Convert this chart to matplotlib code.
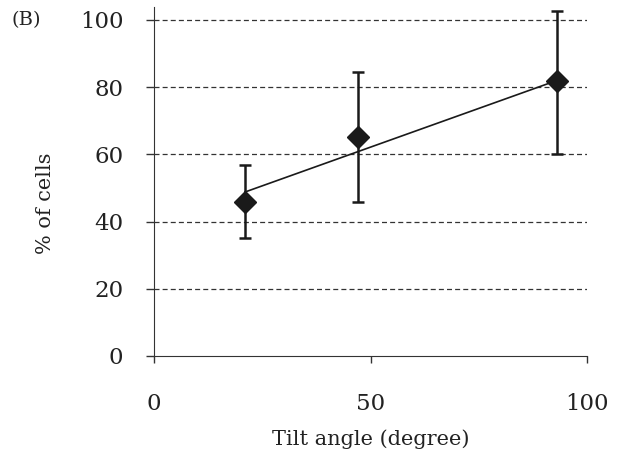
import numpy as np
import matplotlib.pyplot as plt

# data
tilt = [21, 47, 93]
pct = [45.8, 65.2, 81.8]
err_low = [35.1, 45.8, 60.1]
err_high = [56.8, 84.5, 102.7]
fit_x = [21, 93]
fit_y = [48.8, 82.0]
yticks = [0, 20, 40, 60, 80, 100]
xticks = [0, 50, 100]

plt.rcParams['font.family'] = ['DejaVu Serif']

fig = plt.figure(figsize=(6.39, 4.55), dpi=100)
ax = fig.add_axes([0.241, 0.2176, 0.678, 0.768])

pct = np.array(pct)
yerr = np.array([pct - np.array(err_low), np.array(err_high) - pct])

for y in yticks[1:]:
    ax.axhline(y, color='#333333', lw=0.9, ls=(0, (4, 2.5)), zorder=1)

ax.plot(fit_x, fit_y, color='#1a1a1a', lw=1.2, zorder=2)
ax.errorbar(tilt, pct, yerr=yerr, fmt='none', ecolor='#1a1a1a',
            elinewidth=1.8, capsize=4.5, capthick=1.8, zorder=3)
ax.plot(tilt, pct, 'D', color='#1a1a1a', ms=11, zorder=4)

ax.set_xlim(0, 100)
ax.set_ylim(0, 104)
ax.set_xticks(xticks)
ax.set_yticks(yticks)
ax.spines['top'].set_visible(False)
ax.spines['right'].set_visible(False)
ax.spines['left'].set_color('#333333')
ax.spines['bottom'].set_color('#333333')
ax.tick_params(axis='y', direction='out', length=6, width=1, pad=16,
               labelsize=16.5, colors='#333333', labelcolor='#222222')
ax.tick_params(axis='x', direction='out', length=5, width=1, pad=22,
               labelsize=16.5, colors='#333333', labelcolor='#222222')

ax.set_xlabel('Tilt angle (degree)', fontsize=15, labelpad=10, color='#222222')
ax.set_ylabel('% of cells', fontsize=15, labelpad=12, color='#222222')
ax.yaxis.set_label_coords(-0.228, 0.438)
fig.text(0.018, 0.955, '(B)', fontsize=14, color='#222222', va='center')

fig.savefig('out.png', dpi=100)
